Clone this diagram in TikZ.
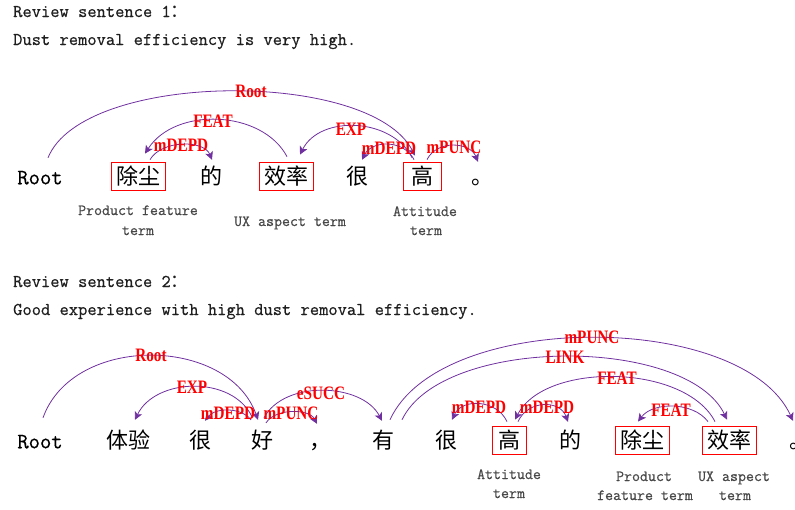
\documentclass[tikz,border=0pt]{standalone}
\usepackage{fontspec}
\newfontfamily\cjk{Noto Sans CJK SC}
\newfontfamily\lblfont[FakeStretch=0.8]{Liberation Serif}
\newfontfamily\monoft[FakeBold=0.6]{Latin Modern Mono}
\usetikzlibrary{arrows.meta}
\definecolor{arcpurple}{HTML}{7030A0}
\begin{document}
\begin{tikzpicture}[x=1pt,y=-1pt,
 word/.style={font=\cjk\fontsize{22}{22}\selectfont, text height=19.5pt, text depth=3pt, inner ysep=2.75pt, inner xsep=5pt},
 rootw/.style={word, font=\monoft\fontsize{22}{22}\selectfont},
 boxed/.style={draw=red, line width=0.8pt},
 lbl/.style={text=red, font=\lblfont\bfseries\fontsize{19}{19}\selectfont, inner sep=0pt},
 term/.style={text=black!72, font=\monoft\fontsize{15.5}{20}\selectfont, inner sep=0pt, anchor=base},
 head/.style={text=black!88, font=\monoft\fontsize{18}{18}\selectfont, anchor=base west, inner sep=0pt},
 arc/.style={draw=arcpurple, line width=0.8pt, -{Stealth[length=8pt,width=8pt,inset=2pt]}}
]
\useasboundingbox (0,0) rectangle (795,509);

% ---------- Sentence 1 ----------
\node[head] (h1a) at (13,17) {Review sentence 1{\cjk ：}};
\node[head] (h1b) at (13,45) {Dust removal efficiency is very high.};

\node[rootw] (root1) at (40,176) {Root};
\node[word,boxed] (chc1) at (138,176) {除尘};
\node[word] (de1) at (211,176) {的};
\node[word,boxed] (xl1) at (286,176) {效率};
\node[word] (hen1) at (357,176) {很};
\node[word,boxed,minimum width=38pt] (gao1) at (422,176) {高};
\node[word] (ju1) at (482,176) {。};

\node[term] (t1a) at (138,215) {Product feature};
\node[term] (t1b) at (138,235) {term};
\node[term] (t1c) at (290,226) {UX aspect term};
\node[term] (t1d) at (425,216) {Attitude};
\node[term] (t1e) at (426,235) {term};

\draw[arc] ([xshift=8pt,yshift=4pt]root1.north) .. controls +(35,-87) and +(-45,-87) .. ([xshift=-7pt,yshift=6pt]gao1.north);
\draw[arc] ([xshift=1pt,yshift=5pt]xl1.north) .. controls +(-25,-47) and +(30,-47) .. ([xshift=7pt,yshift=8pt]chc1.north);
\draw[arc] ([xshift=12pt,yshift=2pt]chc1.north) .. controls +(12,-20) and +(-8,-20) .. ([xshift=1pt,yshift=2pt]de1.north);
\draw[arc] ([xshift=-10pt,yshift=4pt]gao1.north) .. controls +(-20,-40) and +(20,-40) .. ([xshift=14pt,yshift=7pt]xl1.north);
\draw[arc] ([xshift=-8pt,yshift=2pt]gao1.north) .. controls +(-10,-20) and +(10,-20) .. ([xshift=5pt,yshift=2pt]hen1.north);
\draw[arc] ([xshift=5pt,yshift=2pt]gao1.north) .. controls +(10,-20) and +(-8,-20) .. ([xshift=-4pt,yshift=0pt]ju1.north);

\node[lbl] (l1) at (251,91) {Root};
\node[lbl] (l2) at (213,121) {FEAT};
\node[lbl] (l3) at (181,145) {mDEPD};
\node[lbl] (l4) at (351,129) {EXP};
\node[lbl] (l5) at (389,148) {mDEPD};
\node[lbl] (l6) at (454,147) {mPUNC};

% ---------- Sentence 2 ----------
\node[head] (h2a) at (13,287) {Review sentence 2{\cjk ：}};
\node[head] (h2b) at (13,315) {Good experience with high dust removal efficiency.};

\node[rootw] (root2) at (40,440) {Root};
\node[word] (tiyan) at (128,440) {体验};
\node[word] (hen2) at (200,440) {很};
\node[word] (hao) at (262,440) {好};
\node[word] (dou) at (320,440) {，};
\node[word] (you) at (383,440) {有};
\node[word] (hen3) at (446,440) {很};
\node[word,boxed,minimum width=34pt] (gao2) at (509,440) {高};
\node[word] (de2) at (570,440) {的};
\node[word,boxed] (chc2) at (642,440) {除尘};
\node[word,boxed] (xl2) at (729,440) {效率};
\node[word] (ju2) at (800,440) {。};

\node[term] (t2a) at (509,479) {Attitude};
\node[term] (t2b) at (509,498) {term};
\node[term] (t2c) at (644,481) {Product};
\node[term] (t2d) at (645,500) {feature term};
\node[term] (t2e) at (734,481) {UX aspect};
\node[term] (t2f) at (735,500) {term};

\draw[arc] ([xshift=3pt,yshift=8pt]root2.north) .. controls +(30,-84) and +(-30,-84) .. ([xshift=-4pt,yshift=6pt]hao.north);
\draw[arc] ([xshift=-10pt,yshift=9pt]hao.north) .. controls +(-20,-42) and +(20,-42) .. ([xshift=7pt,yshift=6pt]tiyan.north);
\draw[arc] ([xshift=-11pt,yshift=6pt]hao.north) .. controls +(-10,-13) and +(10,-13) .. ([xshift=5pt,yshift=5pt]hen2.north);
\draw[arc] ([xshift=4pt,yshift=3pt]hao.north) .. controls +(10,-15) and +(-8,-15) .. ([xshift=-3pt,yshift=2pt]dou.north);
\draw[arc] ([xshift=2pt,yshift=8pt]hao.north) .. controls +(20,-38) and +(-20,-38) .. ([xshift=-1pt,yshift=5pt]you.north);
\draw[arc] ([xshift=7pt,yshift=6pt]you.north) .. controls +(50,-110) and +(-50,-110) .. ([xshift=-7pt,yshift=5pt]ju2.north);
\draw[arc] ([xshift=19pt,yshift=6pt]you.north) .. controls +(40,-84) and +(-40,-84) .. ([xshift=-2pt,yshift=6pt]xl2.north);
\draw[arc] ([xshift=-2pt,yshift=4pt]gao2.north) .. controls +(-10,-22) and +(10,-22) .. ([xshift=6pt,yshift=6pt]hen3.north);
\draw[arc] ([xshift=9pt,yshift=4pt]gao2.north) .. controls +(10,-22) and +(-8,-22) .. ([xshift=-2pt,yshift=4pt]de2.north);
\draw[arc] ([xshift=-14pt,yshift=4pt]xl2.north) .. controls +(-30,-58) and +(30,-58) .. ([xshift=6pt,yshift=6pt]gao2.north);
\draw[arc] ([xshift=-21pt,yshift=4pt]xl2.north) .. controls +(-15,-20) and +(15,-20) .. ([xshift=-4pt,yshift=4pt]chc2.north);

\node[lbl] (m1) at (151,355) {Root};
\node[lbl] (m2) at (192,387) {EXP};
\node[lbl] (m3) at (228,413) {mDEPD};
\node[lbl] (m4) at (291,413) {mPUNC};
\node[lbl] (m5) at (321,393) {eSUCC};
\node[lbl] (m6) at (592,337) {mPUNC};
\node[lbl] (m7) at (565,357) {LINK};
\node[lbl] (m8) at (617,378) {FEAT};
\node[lbl] (m9) at (479,407) {mDEPD};
\node[lbl] (m10) at (547,407) {mDEPD};
\node[lbl] (m11) at (671,410) {FEAT};
\end{tikzpicture}
\end{document}
